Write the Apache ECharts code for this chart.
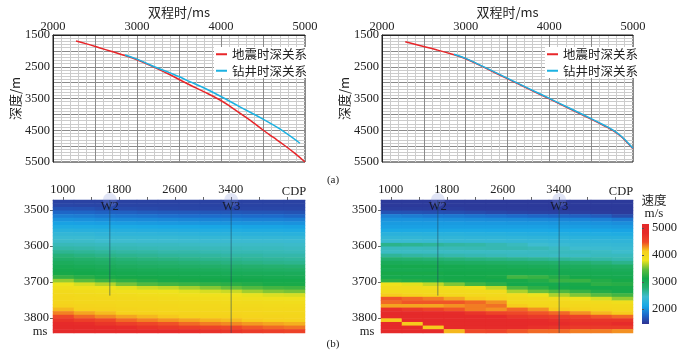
<!DOCTYPE html>
<html>
<head>
<meta charset="utf-8">
<script src="https://cdn.jsdelivr.net/npm/echarts@6.0.0/dist/echarts.min.js"></script>
<style>
  html, body { margin: 0; padding: 0; background: #fff; }
  #main { width: 685px; height: 354px; }
</style>
</head>
<body>
<div id="main"></div>
<script>
// ---- (a) time-depth curves: [two-way time ms, depth m]
const seisA = [[2274, 1689], [2400, 1780], [2550, 1900], [2700, 2020], [2833, 2130], [3000, 2280],
  [3200, 2510], [3400, 2760], [3512, 2917], [3631, 3075], [3800, 3290], [3988, 3547], [4120, 3770],
  [4250, 4010], [4380, 4250], [4500, 4492], [4620, 4720], [4750, 4964], [4880, 5230], [5000, 5500]];
const wellA = [[2857, 2130], [3000, 2260], [3200, 2490], [3400, 2700], [3512, 2823], [3595, 2930],
  [3800, 3170], [3988, 3421], [4225, 3763], [4500, 4150], [4700, 4460], [4940, 4910]];
const seisB = [[2278, 1711], [2450, 1830], [2650, 1965], [2850, 2115], [3000, 2250], [3250, 2560],
  [3490, 2868], [3750, 3195], [4007, 3521], [4250, 3830], [4523, 4180], [4650, 4350], [4762, 4510],
  [4850, 4680], [4921, 4860], [5000, 5079]];
const wellB = [[2860, 2105], [3000, 2238], [3250, 2545], [3490, 2852], [3750, 3180], [4007, 3505],
  [4250, 3815], [4523, 4165], [4650, 4335], [4762, 4495], [4850, 4665], [4921, 4845], [5000, 5065]];

// ---- (b) velocity sections
const cdpCols = [1010, 1310, 1610, 1910, 2210, 2510, 2810, 3110, 3410, 3710, 4010, 4310];
const timeRows = [3477, 3487, 3497, 3507, 3517, 3527, 3537, 3547, 3557, 3567, 3577, 3587, 3597,
  3607, 3617, 3627, 3637, 3647, 3657, 3667, 3677, 3687, 3697, 3707, 3717, 3727, 3737, 3747, 3757,
  3767, 3777, 3787, 3797, 3807, 3817, 3827, 3837];
const cdpTicks = [1000, 1400, 1800, 2200, 2600, 3000, 3400, 3800, 4200];
const cdpLabels = [1000, 1800, 2600, 3400];
const timeLabels = [3500, 3600, 3700, 3800];
const barLabels = [2000, 3000, 4000, 5000];

// left section, one row per time sample, columns = cdpCols (m/s)
const leftRows = [
  [1550, 1550, 1550, 1550, 1550, 1550, 1550, 1550, 1550, 1550, 1550, 1550],
  [1570, 1565, 1565, 1560, 1560, 1560, 1560, 1555, 1555, 1555, 1555, 1555],
  [1650, 1640, 1610, 1600, 1590, 1580, 1570, 1570, 1570, 1570, 1570, 1570],
  [1760, 1750, 1730, 1720, 1700, 1690, 1680, 1670, 1670, 1660, 1660, 1650],
  [1890, 1880, 1850, 1840, 1830, 1810, 1800, 1790, 1790, 1780, 1780, 1760],
  [2000, 1990, 1970, 1960, 1950, 1940, 1930, 1920, 1920, 1900, 1900, 1890],
  [2090, 2080, 2070, 2060, 2050, 2040, 2030, 2020, 2020, 2010, 2010, 2000],
  [2180, 2170, 2160, 2150, 2140, 2130, 2120, 2110, 2110, 2100, 2100, 2090],
  [2270, 2260, 2250, 2240, 2230, 2220, 2210, 2200, 2200, 2190, 2190, 2180],
  [2360, 2350, 2330, 2320, 2320, 2310, 2300, 2290, 2290, 2280, 2280, 2270],
  [2420, 2420, 2400, 2400, 2390, 2390, 2380, 2370, 2370, 2360, 2360, 2360],
  [2480, 2480, 2460, 2460, 2450, 2450, 2440, 2430, 2430, 2430, 2430, 2420],
  [2540, 2530, 2520, 2520, 2510, 2510, 2500, 2490, 2490, 2490, 2490, 2480],
  [2600, 2590, 2570, 2560, 2550, 2540, 2540, 2530, 2530, 2520, 2520, 2510],
  [2680, 2660, 2640, 2620, 2610, 2590, 2590, 2570, 2560, 2560, 2550, 2540],
  [2770, 2740, 2710, 2690, 2670, 2650, 2640, 2630, 2610, 2610, 2590, 2590],
  [2870, 2840, 2800, 2770, 2750, 2730, 2710, 2690, 2680, 2660, 2650, 2640],
  [2970, 2930, 2890, 2850, 2820, 2800, 2780, 2760, 2740, 2720, 2700, 2690],
  [3040, 3020, 2990, 2950, 2920, 2900, 2880, 2860, 2840, 2820, 2800, 2790],
  [3100, 3080, 3050, 3030, 3010, 3000, 2980, 2960, 2940, 2920, 2900, 2890],
  [3150, 3130, 3110, 3090, 3070, 3060, 3050, 3040, 3020, 3010, 3000, 2990],
  [3290, 3220, 3160, 3140, 3120, 3110, 3100, 3090, 3080, 3070, 3060, 3050],
  [3600, 3460, 3330, 3260, 3200, 3160, 3150, 3140, 3130, 3120, 3110, 3110],
  [3810, 3750, 3670, 3530, 3420, 3350, 3310, 3270, 3240, 3200, 3160, 3160],
  [3910, 3870, 3840, 3780, 3730, 3700, 3630, 3560, 3490, 3420, 3350, 3330],
  [3970, 3940, 3910, 3880, 3850, 3820, 3780, 3750, 3720, 3630, 3560, 3530],
  [4000, 3990, 3970, 3950, 3920, 3900, 3880, 3860, 3840, 3790, 3760, 3750],
  [4020, 4010, 4000, 3990, 3970, 3960, 3940, 3930, 3910, 3890, 3870, 3860],
  [4050, 4030, 4020, 4010, 4000, 3990, 3980, 3970, 3960, 3950, 3940, 3920],
  [4100, 4070, 4050, 4030, 4020, 4020, 4010, 4000, 3990, 3990, 3980, 3980],
  [4200, 4130, 4100, 4070, 4050, 4040, 4030, 4030, 4020, 4020, 4010, 4010],
  [4340, 4250, 4190, 4130, 4100, 4080, 4070, 4050, 4050, 4040, 4030, 4030],
  [4520, 4400, 4320, 4250, 4200, 4160, 4130, 4110, 4100, 4080, 4070, 4060],
  [4720, 4600, 4500, 4400, 4340, 4290, 4250, 4210, 4190, 4150, 4130, 4110],
  [4880, 4790, 4700, 4600, 4520, 4460, 4400, 4350, 4320, 4280, 4250, 4220],
  [4980, 4930, 4860, 4790, 4720, 4660, 4600, 4540, 4500, 4440, 4400, 4370],
  [5040, 5000, 4970, 4930, 4880, 4840, 4790, 4740, 4700, 4640, 4600, 4560]
];

// right section, one column per CDP, values down the timeRows (m/s)
const rightCols = [
  [1500, 1500, 1520, 1650, 1900, 2000, 2050, 2080, 2150, 2280, 2350, 2420, 2700, 2520, 2500, 2650, 2820, 3000, 3100, 3050, 3150, 3100, 3250, 3850, 3950, 3980, 4150, 4450, 4400, 4250, 4750, 4900, 4850, 4150, 4900, 4950, 4950],
  [1500, 1500, 1520, 1640, 1880, 2000, 2050, 2080, 2150, 2280, 2350, 2420, 2680, 2520, 2500, 2620, 2800, 2980, 3100, 3050, 3150, 3100, 3200, 3780, 3950, 3980, 4100, 4400, 4450, 4250, 4650, 4900, 4900, 4850, 4150, 4950, 4950],
  [1500, 1500, 1520, 1630, 1860, 1990, 2050, 2080, 2150, 2270, 2340, 2410, 2650, 2530, 2500, 2600, 2780, 2960, 3100, 3060, 3150, 3100, 3180, 3700, 3930, 3980, 4050, 4350, 4450, 4250, 4550, 4850, 4900, 4900, 4850, 4150, 4950],
  [1500, 1500, 1520, 1620, 1850, 1980, 2050, 2080, 2150, 2270, 2340, 2400, 2620, 2540, 2500, 2580, 2760, 2940, 3080, 3080, 3130, 3120, 3150, 3550, 3900, 3970, 4020, 4250, 4450, 4300, 4450, 4800, 4900, 4900, 4900, 4850, 4200],
  [1500, 1500, 1510, 1600, 1830, 1970, 2040, 2080, 2150, 2260, 2330, 2400, 2600, 2550, 2500, 2560, 2740, 2920, 3060, 3080, 3120, 3130, 3150, 3350, 3850, 3960, 4000, 4150, 4400, 4350, 4350, 4700, 4900, 4900, 4900, 4800, 4500],
  [1500, 1500, 1510, 1580, 1810, 1960, 2040, 2080, 2140, 2250, 2330, 2390, 2560, 2560, 2500, 2540, 2720, 2900, 3040, 3080, 3110, 3150, 3120, 3250, 3700, 3940, 3990, 4080, 4300, 4380, 4300, 4550, 4850, 4900, 4900, 4800, 4550],
  [1500, 1500, 1510, 1560, 1780, 1950, 2030, 2080, 2140, 2240, 2320, 2380, 2520, 2560, 2500, 2520, 2700, 2880, 3020, 3080, 3100, 3350, 3150, 3120, 3400, 3650, 3920, 3990, 4020, 4150, 4400, 4500, 4700, 4850, 4900, 4800, 4450],
  [1500, 1500, 1510, 1550, 1760, 1940, 2030, 2080, 2140, 2230, 2310, 2370, 2460, 2540, 2510, 2510, 2680, 2860, 3000, 3070, 3090, 3300, 3200, 3100, 3250, 3500, 3800, 3970, 4010, 4050, 4300, 4450, 4650, 4800, 4850, 4750, 4400],
  [1500, 1500, 1500, 1540, 1740, 1930, 2020, 2070, 2130, 2220, 2300, 2360, 2420, 2500, 2520, 2500, 2650, 2830, 2980, 3050, 3080, 3200, 3300, 3100, 3150, 3400, 3650, 3920, 4000, 4030, 4150, 4400, 4600, 4750, 4800, 4700, 4400],
  [1500, 1500, 1500, 1530, 1720, 1920, 2010, 2060, 2120, 2210, 2290, 2350, 2400, 2460, 2520, 2500, 2620, 2800, 2960, 3030, 3070, 3120, 3300, 3150, 3120, 3300, 3550, 3850, 3980, 4020, 4100, 4300, 4550, 4700, 4750, 4650, 4350],
  [1500, 1500, 1500, 1520, 1700, 1900, 2000, 2050, 2110, 2200, 2280, 2340, 2390, 2440, 2500, 2520, 2600, 2760, 2930, 3010, 3060, 3100, 3200, 3250, 3120, 3200, 3450, 3750, 3950, 4010, 4050, 4200, 4450, 4700, 4750, 4650, 4350],
  [1500, 1500, 1500, 1510, 1620, 1850, 1980, 2040, 2100, 2190, 2270, 2330, 2380, 2420, 2470, 2520, 2570, 2700, 2900, 2990, 3050, 3080, 3150, 3220, 3150, 3150, 3350, 3600, 3900, 3990, 4030, 4150, 4400, 4700, 4800, 4650, 4300]
];

// wells: cdp position and bottom time
const wells = [
  { name: 'W2', cdp: 1672, bottom: 3738 },
  { name: 'W3', cdp: 3405, bottom: 3842 },
];

const vMin = 1450;
const vMax = 5150;
const cmap = ['#2f3192', '#1d6bcc', '#19a8e6', '#3ebccf', '#24b070', '#14a84a',
  '#5cbc3e', '#eee41c', '#f6d01c', '#ef4a28', '#e62a2a', '#e42a2a'];

const SERIF = '"Liberation Serif", "Noto Sans CJK SC", serif';
const CJK = '"Noto Sans CJK SC", sans-serif';
const TXT = '#222';
const plain = (v) => String(v);

const leftData = [];
leftRows.forEach((row, k) => row.forEach((v, c) => leftData.push([c, k, v])));
const rightData = [];
rightCols.forEach((col, c) => col.forEach((v, k) => rightData.push([c, k, v])));

const chart = echarts.init(document.getElementById('main'));

const timeAxis = (gridIndex) => ({
  type: 'value',
  gridIndex,
  position: 'top',
  min: 2000,
  max: 5000,
  interval: 500,
  name: '双程时/ms',
  nameLocation: 'middle',
  nameGap: 16,
  nameTextStyle: { fontFamily: CJK, fontSize: 13, color: TXT },
  axisLine: { show: true, lineStyle: { color: '#222' } },
  axisTick: { show: false },
  axisLabel: {
    margin: 2, fontFamily: SERIF, fontSize: 12.5, color: TXT,
    formatter: (v) => (v % 1000 === 0 ? String(v) : ''),
  },
  splitLine: { show: true, lineStyle: { color: '#8a8a8a' } },
  minorTick: { show: false, splitNumber: 5 },
  minorSplitLine: { show: true, lineStyle: { color: '#cccccc' } },
});

const depthAxis = (gridIndex) => ({
  type: 'value',
  gridIndex,
  inverse: true,
  min: 1500,
  max: 5500,
  interval: 500,
  name: '深度/m',
  nameLocation: 'middle',
  nameRotate: 90,
  nameGap: 30,
  nameTextStyle: { fontFamily: CJK, fontSize: 13, color: TXT },
  axisLine: { show: true, lineStyle: { color: '#222' } },
  axisTick: { show: false },
  axisLabel: {
    margin: 3, fontFamily: SERIF, fontSize: 12.5, color: TXT,
    formatter: (v) => ((v - 1500) % 1000 === 0 ? String(v) : ''),
  },
  splitLine: { show: true, lineStyle: { color: '#8a8a8a' } },
  minorTick: { show: false, splitNumber: 5 },
  minorSplitLine: { show: true, lineStyle: { color: '#cccccc' } },
});

const cdpAxis = (gridIndex) => ({
  type: 'value',
  gridIndex,
  position: 'top',
  min: 860,
  max: 4460,
  axisLine: { show: true, lineStyle: { color: '#aaa' } },
  axisTick: { show: true, length: 3, customValues: cdpTicks, lineStyle: { color: '#666' } },
  axisLabel: { customValues: cdpLabels, formatter: plain, margin: 4, fontFamily: SERIF, fontSize: 12.5, color: TXT },
  splitLine: { show: false },
});

const twtAxis = (gridIndex) => ({
  type: 'value',
  gridIndex,
  position: 'left',
  inverse: true,
  min: 3472,
  max: 3842,
  axisLine: { show: true, lineStyle: { color: '#aaa' } },
  axisTick: { show: true, length: 3, customValues: timeLabels, lineStyle: { color: '#666' } },
  axisLabel: { customValues: timeLabels, formatter: plain, margin: 4, fontFamily: SERIF, fontSize: 12.5, color: TXT },
  splitLine: { show: false },
});

const curve = (name, data, color, axis) => ({
  name,
  type: 'line',
  xAxisIndex: axis,
  yAxisIndex: axis,
  data,
  smooth: 0.4,
  symbol: 'none',
  lineStyle: { color, width: 1.5 },
  itemStyle: { color },
  silent: true,
});

const wellLines = (axis) => wells.map((w) => ({
  type: 'line',
  xAxisIndex: axis,
  yAxisIndex: axis,
  data: [[w.cdp, 3472], [w.cdp, w.bottom]],
  symbol: 'none',
  lineStyle: { color: 'rgba(30,70,95,0.55)', width: 1 },
  silent: true,
}));

const wellTops = (axis) => ({
  type: 'scatter',
  xAxisIndex: axis,
  yAxisIndex: axis,
  data: wells.map((w) => ({ name: w.name, value: [w.cdp, 3472] })),
  symbolSize: 14,
  itemStyle: { color: 'rgba(130,150,220,0.3)' },
  label: {
    show: true, formatter: '{b}', position: 'inside', offset: [0, 7],
    fontFamily: SERIF, fontSize: 12.5, color: '#111',
  },
  silent: true,
});

const legendCfg = (left) => ({
  left,
  top: 47,
  orient: 'vertical',
  icon: 'rect',
  itemWidth: 11,
  itemHeight: 2,
  itemGap: 4,
  padding: [1, 2, 1, 2],
  backgroundColor: '#fff',
  data: ['地震时深关系', '钻井时深关系'],
  textStyle: { fontFamily: CJK, fontSize: 12.5, color: TXT },
});

const txt = (text, x, y, font, size) => ({
  type: 'text',
  x,
  y,
  style: { text, fontFamily: font, fontSize: size, fill: TXT, align: 'center', verticalAlign: 'middle' },
});

const barStops = cmap.slice().reverse().map((c, i, a) => ({ offset: i / (a.length - 1), color: c }));

const option = {
  animation: false,
  backgroundColor: '#fff',
  grid: [
    { left: 53, top: 35, width: 252, height: 127, show: true, borderColor: '#222', borderWidth: 1 },
    { left: 382, top: 35, width: 251, height: 127, show: true, borderColor: '#222', borderWidth: 1 },
    { left: 53, top: 200, width: 252, height: 133 },
    { left: 381, top: 200, width: 252, height: 133 },
    { left: 642, top: 224, width: 7, height: 100 },
  ],
  xAxis: [
    timeAxis(0),
    timeAxis(1),
    { type: 'category', gridIndex: 2, data: cdpCols, show: false, position: 'bottom' },
    { type: 'category', gridIndex: 3, data: cdpCols, show: false, position: 'bottom' },
    cdpAxis(2),
    cdpAxis(3),
    { type: 'value', gridIndex: 4, min: 0, max: 1, show: false },
  ],
  yAxis: [
    depthAxis(0),
    depthAxis(1),
    { type: 'category', gridIndex: 2, data: timeRows, inverse: true, show: false, position: 'right' },
    { type: 'category', gridIndex: 3, data: timeRows, inverse: true, show: false, position: 'right' },
    twtAxis(2),
    twtAxis(3),
    {
      type: 'value', gridIndex: 4, position: 'right', min: vMin, max: vMax,
      axisLine: { show: false },
      axisTick: { show: true, length: 2, customValues: barLabels, lineStyle: { color: '#555' } },
      axisLabel: { customValues: barLabels, formatter: plain, margin: 3, fontFamily: SERIF, fontSize: 12.5, color: TXT },
      splitLine: { show: false },
    },
  ],
  visualMap: {
    type: 'continuous',
    show: false,
    min: vMin,
    max: vMax,
    seriesIndex: [0, 1],
    inRange: { color: cmap },
  },
  legend: [legendCfg(214), legendCfg(545)],
  series: [
    { type: 'heatmap', xAxisIndex: 2, yAxisIndex: 2, data: leftData, progressive: 0, silent: true },
    { type: 'heatmap', xAxisIndex: 3, yAxisIndex: 3, data: rightData, progressive: 0, silent: true },
    curve('地震时深关系', seisA, '#e8262a', 0),
    curve('钻井时深关系', wellA, '#1db2e2', 0),
    curve('地震时深关系', seisB, '#e8262a', 1),
    curve('钻井时深关系', wellB, '#1db2e2', 1),
    ...wellLines(4),
    ...wellLines(5),
    wellTops(4),
    wellTops(5),
  ],
  graphic: [
    {
      type: 'rect',
      shape: { x: 642, y: 224, width: 7, height: 100 },
      style: { fill: new echarts.graphic.LinearGradient(0, 0, 0, 1, barStops) },
    },
    txt('速度', 654, 200, CJK, 12.5),
    txt('m/s', 654, 214, SERIF, 13),
    txt('CDP', 294, 192, SERIF, 12.5),
    txt('CDP', 621, 192, SERIF, 12.5),
    txt('ms', 40, 332, SERIF, 12.5),
    txt('ms', 367, 332, SERIF, 12.5),
    txt('(a)', 333, 180, SERIF, 11),
    txt('(b)', 333, 344, SERIF, 11),
  ],
};

chart.setOption(option);
</script>
</body>
</html>
